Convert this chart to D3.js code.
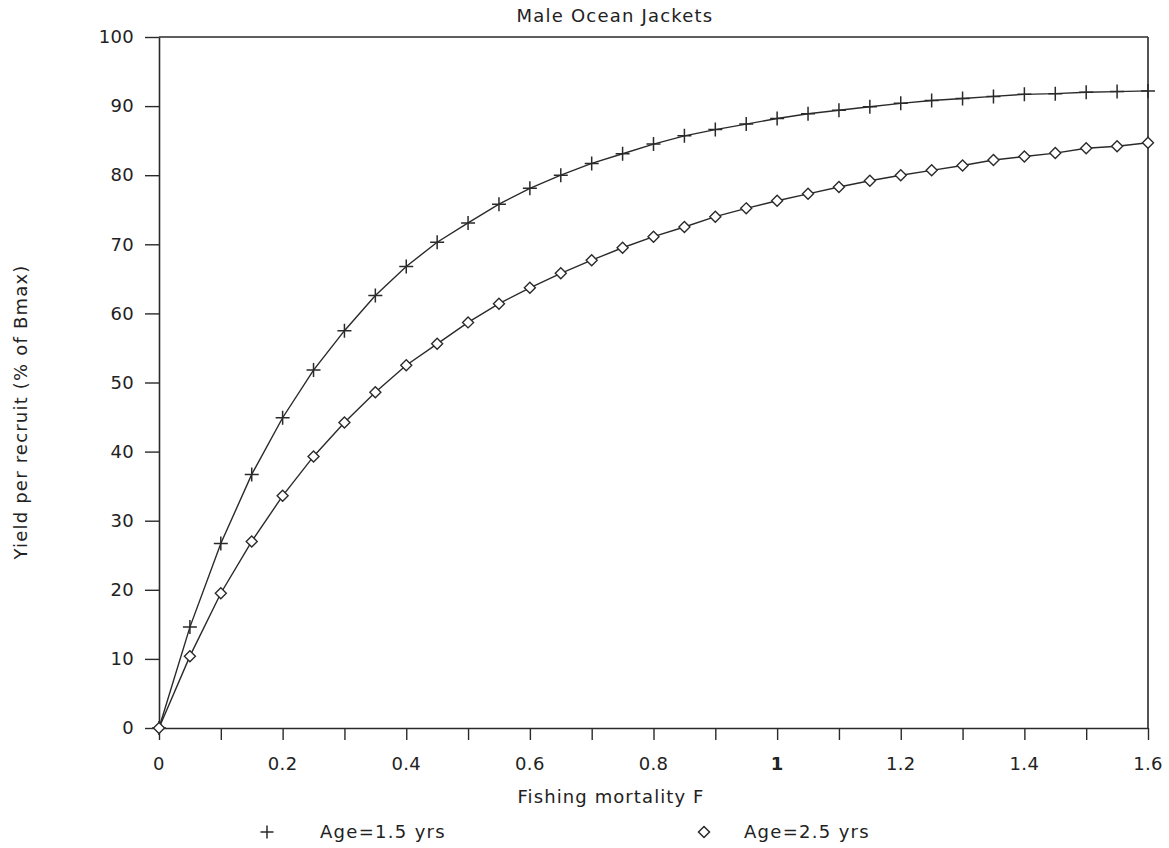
<!DOCTYPE html>
<html>
<head>
<meta charset="utf-8">
<script src="https://cdn.jsdelivr.net/npm/d3@7/dist/d3.min.js"></script>
<style>
  html, body { margin: 0; padding: 0; background: #fff; }
  svg { display: block; }
  text { font-family: "DejaVu Sans", sans-serif; fill: #222; }
</style>
</head>
<body>
<script>
// Fishing mortality values (F) at which yield per recruit was computed
const fishingF = [0, 0.05, 0.1, 0.15, 0.2, 0.25, 0.3, 0.35, 0.4, 0.45, 0.5, 0.55,
  0.6, 0.65, 0.7, 0.75, 0.8, 0.85, 0.9, 0.95, 1.0, 1.05, 1.1, 1.15, 1.2, 1.25,
  1.3, 1.35, 1.4, 1.45, 1.5, 1.55, 1.6];

// Yield per recruit (% of Bmax), age at first capture 1.5 yrs
const age15 = [0, 14.6, 26.7, 36.7, 44.9, 51.8, 57.5, 62.6, 66.8, 70.3, 73.1, 75.8,
  78.1, 80.0, 81.7, 83.1, 84.5, 85.7, 86.6, 87.4, 88.2, 88.9, 89.4, 89.9, 90.4, 90.8,
  91.1, 91.4, 91.7, 91.8, 92.0, 92.1, 92.2];

// Yield per recruit (% of Bmax), age at first capture 2.5 yrs
const age25 = [0, 10.4, 19.5, 27.0, 33.6, 39.3, 44.2, 48.6, 52.5, 55.6, 58.7, 61.4,
  63.7, 65.8, 67.7, 69.5, 71.1, 72.5, 74.0, 75.2, 76.3, 77.3, 78.3, 79.2, 80.0, 80.7,
  81.4, 82.2, 82.7, 83.2, 83.9, 84.2, 84.7];

const xTickValues = [0, 0.2, 0.4, 0.6, 0.8, 1, 1.2, 1.4, 1.6];
const xMinorTicks = [0, 0.1, 0.2, 0.3, 0.4, 0.5, 0.6, 0.7, 0.8, 0.9, 1.0, 1.1, 1.2, 1.3, 1.4, 1.5, 1.6];
const yTickValues = [0, 10, 20, 30, 40, 50, 60, 70, 80, 90, 100];

const titleText = "Male Ocean Jackets";
const xLabel = "Fishing mortality F";
const yLabel = "Yield per recruit (% of Bmax)";
const seriesNames = ["Age=1.5 yrs", "Age=2.5 yrs"];

const W = 1169, H = 848;
const plot = { left: 159, right: 1148, top: 37, bottom: 728 };
const ink = "#2a2a2a";
const fontSize = 18;

const svg = d3.select("body").append("svg").attr("width", W).attr("height", H);

const x = d3.scaleLinear().domain([0, 1.6]).range([plot.left, plot.right]);
const y = d3.scaleLinear().domain([0, 100]).range([plot.bottom, plot.top]);

// Frame: top and right edges
svg.append("line").attr("x1", x(0)).attr("x2", x(1.6)).attr("y1", y(100)).attr("y2", y(100))
  .attr("stroke", ink).attr("stroke-width", 1.6);
svg.append("line").attr("x1", x(1.6)).attr("x2", x(1.6)).attr("y1", y(100)).attr("y2", y(0))
  .attr("stroke", ink).attr("stroke-width", 1.6);

// Bottom axis: minor ticks every 0.1, labels every 0.2
const xAxis = d3.axisBottom(x).tickValues(xMinorTicks).tickSize(12).tickSizeOuter(0)
  .tickFormat(() => "");
const gx = svg.append("g").attr("transform", `translate(0,${y(0)})`).call(xAxis);
gx.select(".domain").attr("stroke", ink).attr("stroke-width", 1.6);
gx.selectAll(".tick line").attr("stroke", ink).attr("stroke-width", 1.4);

svg.append("g").selectAll("text").data(xTickValues).join("text")
  .attr("x", d => x(d)).attr("y", y(0) + 42)
  .attr("text-anchor", "middle")
  .attr("font-size", fontSize)
  .attr("letter-spacing", 0.3)
  .attr("font-weight", d => d === 1 ? "bold" : "normal")
  .text(d => d3.format("~g")(d));

// Left axis
const yAxis = d3.axisLeft(y).tickValues(yTickValues).tickSize(14).tickSizeOuter(0).tickPadding(11)
  .tickFormat(d3.format("d"));
const gy = svg.append("g").attr("transform", `translate(${x(0)},0)`).call(yAxis);
gy.select(".domain").attr("stroke", ink).attr("stroke-width", 1.6);
gy.selectAll(".tick line").attr("stroke", ink).attr("stroke-width", 1.4);
gy.selectAll(".tick text").attr("font-size", fontSize).attr("letter-spacing", 0.3)
  .attr("font-family", "DejaVu Sans, sans-serif").attr("fill", "#222");

// Curves
const line = d3.line().x(d => x(d[0])).y(d => y(d[1]));
const s1 = fishingF.map((f, i) => [f, age15[i]]);
const s2 = fishingF.map((f, i) => [f, age25[i]]);

[s1, s2].forEach(s => {
  svg.append("path").datum(s).attr("d", line)
    .attr("fill", "none").attr("stroke", ink).attr("stroke-width", 1.4);
});

// Plus markers
function plusPath(size) {
  const h = size / 2;
  return `M${-h},0H${h}M0,${-h}V${h}`;
}
svg.append("g").selectAll("path").data(s1).join("path")
  .attr("transform", d => `translate(${x(d[0])},${y(d[1])})`)
  .attr("d", plusPath(14))
  .attr("fill", "none").attr("stroke", ink).attr("stroke-width", 1.5);

// Diamond markers
function diamondPath(size) {
  const h = size / 2;
  return `M0,${-h}L${h},0L0,${h}L${-h},0Z`;
}
svg.append("g").selectAll("path").data(s2).join("path")
  .attr("transform", d => `translate(${x(d[0])},${y(d[1])})`)
  .attr("d", diamondPath(11))
  .attr("fill", "#fff").attr("stroke", ink).attr("stroke-width", 1.4);

// Title
svg.append("text").attr("x", 615).attr("y", 22)
  .attr("text-anchor", "middle").attr("font-size", fontSize).attr("letter-spacing", 1.2)
  .text(titleText);

// Axis titles
svg.append("text").attr("x", 611).attr("y", 803)
  .attr("text-anchor", "middle").attr("font-size", fontSize).attr("letter-spacing", 1.1)
  .text(xLabel);

svg.append("text")
  .attr("transform", `translate(27,412) rotate(-90)`)
  .attr("text-anchor", "middle").attr("font-size", fontSize).attr("letter-spacing", 1.2)
  .text(yLabel);

// Legend
const legend = [
  { sx: 267, tx: 320, path: plusPath(13), fill: "none" },
  { sx: 704, tx: 744, path: diamondPath(11), fill: "#fff" }
];
legend.forEach((l, i) => {
  svg.append("path").attr("transform", `translate(${l.sx},832)`)
    .attr("d", l.path).attr("fill", l.fill).attr("stroke", ink).attr("stroke-width", 1.5);
  svg.append("text").attr("x", l.tx).attr("y", 838)
    .attr("font-size", fontSize).attr("letter-spacing", 1.3)
    .text(seriesNames[i]);
});
</script>
</body>
</html>
